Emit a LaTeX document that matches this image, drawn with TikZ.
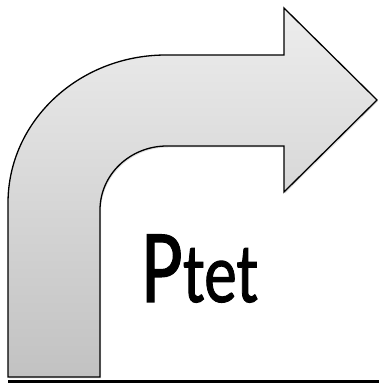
\documentclass[tikz,border=0pt]{standalone}
\usepackage{fontspec}
\setmainfont{Carlito}
\usetikzlibrary{shadows}

\begin{document}
\begin{tikzpicture}[x=1pt,y=1pt]
\tikzstyle{every node}+=[inner sep=0pt]
\tikzstyle{arrowbody}=[draw=black,line width=1.3pt,top color=gray!14,bottom color=gray!48,
  drop shadow={shadow xshift=1pt,shadow yshift=-1.5pt,opacity=0.25}]
\useasboundingbox (0,0) rectangle (379,383);
% bent arrow
\draw [arrowbody] (8,6) -- (8,180) arc [start angle=180,end angle=90,x radius=158,y radius=148]
  -- (284,328) -- (284,375) -- (377,283) -- (284,191) -- (284,237) -- (167,237)
  arc [start angle=90,end angle=180,x radius=67,y radius=64] -- (100,6) -- cycle;
\coordinate (floorL) at (8,1.5);
\coordinate (floorR) at (379,1.5);
\draw [black,line width=3pt] (floorL) -- (floorR);
\node [anchor=base west] (ptet) at (141,81)
  {\scalebox{0.77}[1]{\addfontfeature{FakeBold=1.2}\fontsize{105}{105}\selectfont P\fontsize{85}{85}\selectfont tet}};
\end{tikzpicture}
\end{document}
